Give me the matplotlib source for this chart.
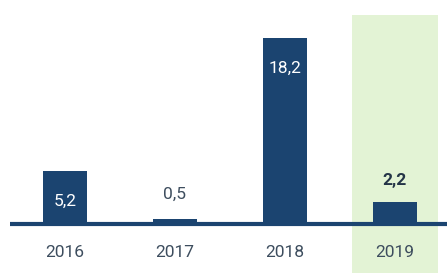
import matplotlib.pyplot as plt

# DATA
years = ["2016", "2017", "2018", "2019"]
values = [5.2, 0.5, 18.2, 2.2]
value_labels = ["5,2", "0,5", "18,2", "2,2"]

navy = "#1b4470"
text_dark = "#3d4d5e"
green = "#e3f3d5"

plt.rcParams['font.family'] = ['Roboto', 'DejaVu Sans']

fig = plt.figure(figsize=(4.47, 2.73), dpi=100)
ax = fig.add_axes([0, 0, 1, 1])
ax.set_xlim(-0.591, 3.473)
ax.set_ylim(-4.79, 21.92)
ax.axis("off")

# highlight band for the last year
ax.axvspan(2.609, 3.391, ymin=0, ymax=0.945, color=green, zorder=0, lw=0)

x = list(range(len(years)))
ax.bar(x, values, width=0.4, color=navy, zorder=2)
ax.plot([-0.5, 3.6], [0, 0], color=navy, lw=3.0, zorder=3, solid_capstyle="butt")

#LABELS
for i, (v, lab) in enumerate(zip(values, value_labels)):
    if v > 4:
        ax.annotate(lab, (i, v), xytext=(0, -22), textcoords="offset points",
                    ha="center", va="center", color="white", fontsize=12.5)
    elif i == len(years) - 1:
        ax.annotate(lab, (i, v), xytext=(0, 15.5), textcoords="offset points",
                    ha="center", va="center", color="#243447", fontsize=12.5,
                    fontweight="bold")
    else:
        ax.annotate(lab, (i, v), xytext=(0, 18), textcoords="offset points",
                    ha="center", va="center", color=text_dark, fontsize=12.5)
    ax.text(i, -2.75, years[i], ha="center", va="center", color=text_dark,
            fontsize=12.5)

fig.savefig("out.png", dpi=100)
